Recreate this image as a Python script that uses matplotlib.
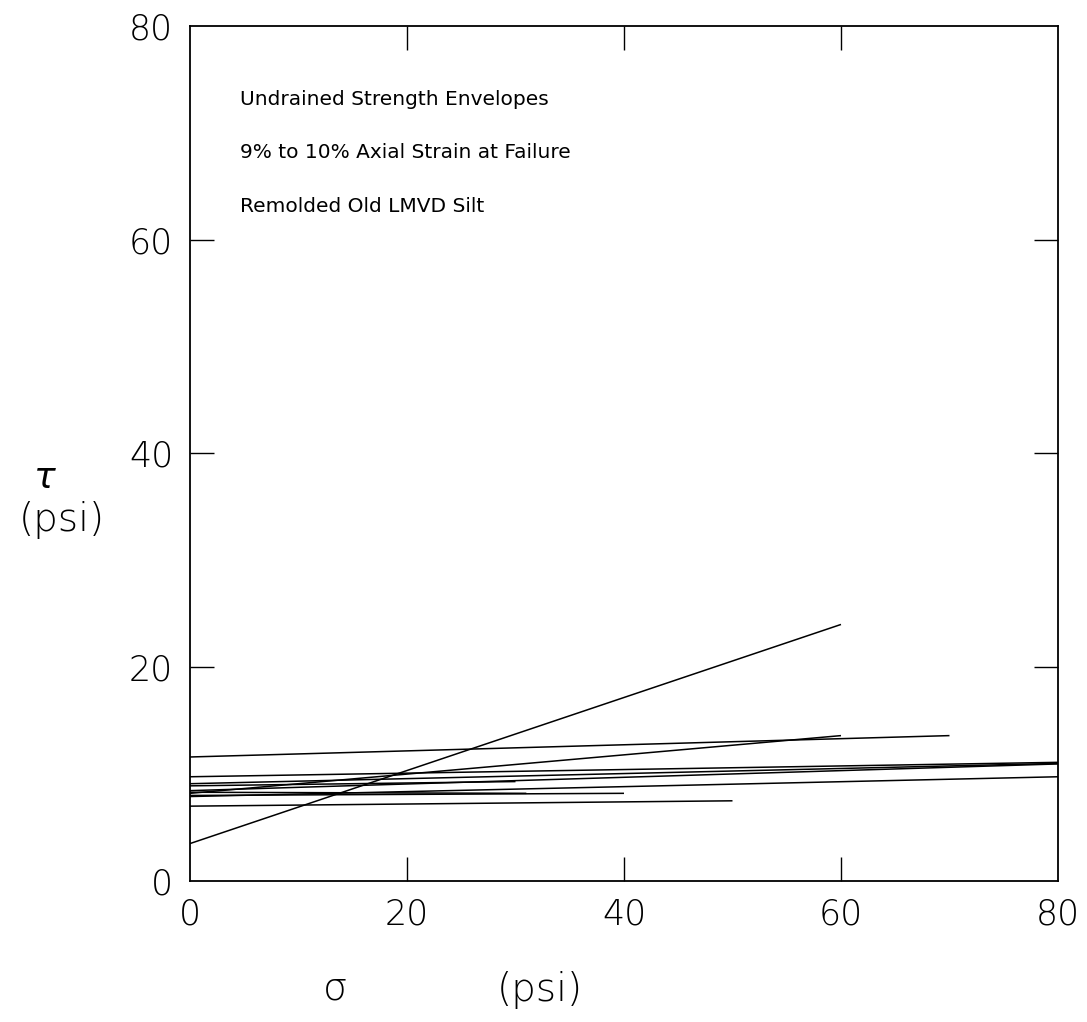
import matplotlib
matplotlib.use("Agg")
import matplotlib.pyplot as plt

# Envelope lines: start/end normal stress (psi) and shear stress (psi)
sigma_start = [0, 0, 0, 0, 0, 0, 0, 0, 0, 0, 0]
sigma_end = [60, 70, 60, 80, 80, 80, 80, 50, 40, 30, 31]
tau_start = [3.5, 11.6, 8.2, 9.75, 9.1, 8.45, 7.9, 7.0, 8.0, 8.9, 8.3]
tau_end = [24.0, 13.6, 13.6, 11.1, 11.0, 10.95, 9.75, 7.5, 8.2, 9.3, 8.2]

xticks = [0, 20, 40, 60, 80]
yticks = [0, 20, 40, 60, 80]
notes = ["Undrained Strength Envelopes",
         "9% to 10% Axial Strain at Failure",
         "Remolded Old LMVD Silt"]

plt.rcParams['font.family'] = ['DejaVu Sans']
fig = plt.figure(figsize=(10.87, 10.22), dpi=100)
ax = fig.add_axes([0.1748, 0.1380, 0.7985, 0.8366])

for xs, xe, ys, ye in zip(sigma_start, sigma_end, tau_start, tau_end):
    ax.plot([xs, xe], [ys, ye], color='black', lw=1.1, solid_capstyle='butt')

ax.set_xlim(0, 80)
ax.set_ylim(0, 80)
ax.set_xticks(xticks)
ax.set_yticks(yticks)
ax.tick_params(direction='in', length=17, width=1.0, top=True, right=True,
               labelsize=25, pad=12, colors='black')
for lab in ax.get_xticklabels() + ax.get_yticklabels():
    lab.set_fontweight('light')
for axis in (ax.xaxis, ax.yaxis):
    mt = axis.get_major_ticks()
    for t in (mt[0], mt[-1]):
        t.tick1line.set_visible(False)
        t.tick2line.set_visible(False)
for s in ax.spines.values():
    s.set_linewidth(1.3)

for i, t in enumerate(notes):
    ax.text(0.058, 0.914 - i * 0.0625, t, transform=ax.transAxes,
            fontsize=14.5, ha='left', va='center', color='black')

fig.text(45 / 1087, 1 - 478 / 1022, r"$\tau$", fontsize=26, ha='center', va='center')
fig.text(62 / 1087, 1 - 520 / 1022, "(psi)", fontsize=28, ha='center', va='center',
         fontweight='light')
fig.text(335 / 1087, 1 - 988 / 1022, "σ", fontsize=28, ha='center', va='center',
         fontweight='light')
fig.text(540 / 1087, 1 - 990 / 1022, "(psi)", fontsize=28, ha='center', va='center',
         fontweight='light')

fig.savefig("out.png", dpi=100)
